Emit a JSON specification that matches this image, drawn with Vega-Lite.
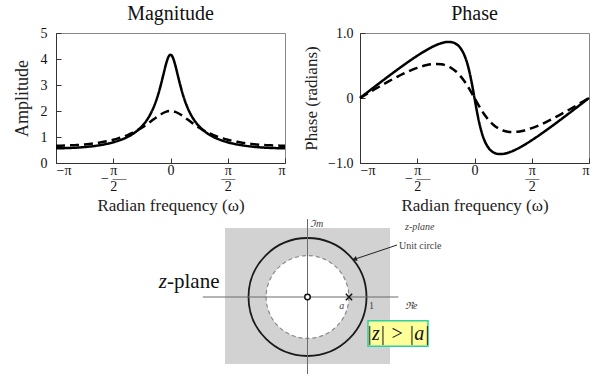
{
  "$schema": "https://vega.github.io/schema/vega-lite/v6.json",
  "autosize": {"type": "pad"},
  "padding": {"left": 12, "top": 3, "right": 0, "bottom": 0},
  "background": "white",
  "config": {
    "font": "Liberation Serif",
    "view": {"stroke": "#888", "strokeWidth": 1},
    "axis": {
      "grid": false,
      "labelFont": "Liberation Serif",
      "titleFont": "Liberation Serif",
      "labelFontSize": 14,
      "titleFontSize": 17,
      "titleFontWeight": "normal",
      "labelColor": "#111",
      "titleColor": "#222",
      "domainColor": "#333",
      "tickColor": "#333",
      "tickSize": -5,
      "labelPadding": 7
    },
    "title": {"font": "Liberation Serif", "fontSize": 20, "fontWeight": "normal", "color": "#111", "offset": 2}
  },
  "datasets": {
    "curves": [
      {"w": -3.1416, "s": "a", "m": 0.5682, "p": 0},
      {"w": -3.0107, "s": "a", "m": 0.5694, "p": 0.0565},
      {"w": -2.8798, "s": "a", "m": 0.5730, "p": 0.1129},
      {"w": -2.7489, "s": "a", "m": 0.5791, "p": 0.1692},
      {"w": -2.6180, "s": "a", "m": 0.5878, "p": 0.2253},
      {"w": -2.4871, "s": "a", "m": 0.5994, "p": 0.2810},
      {"w": -2.3562, "s": "a", "m": 0.6140, "p": 0.3363},
      {"w": -2.2253, "s": "a", "m": 0.6321, "p": 0.3910},
      {"w": -2.0944, "s": "a", "m": 0.6541, "p": 0.4450},
      {"w": -1.9635, "s": "a", "m": 0.6805, "p": 0.4982},
      {"w": -1.8326, "s": "a", "m": 0.7123, "p": 0.5502},
      {"w": -1.7017, "s": "a", "m": 0.7504, "p": 0.6009},
      {"w": -1.5708, "s": "a", "m": 0.7962, "p": 0.6498},
      {"w": -1.4399, "s": "a", "m": 0.8515, "p": 0.6966},
      {"w": -1.3090, "s": "a", "m": 0.9189, "p": 0.7404},
      {"w": -1.1781, "s": "a", "m": 1.0020, "p": 0.7804},
      {"w": -1.0472, "s": "a", "m": 1.1059, "p": 0.8153},
      {"w": -0.9163, "s": "a", "m": 1.2382, "p": 0.8429},
      {"w": -0.7854, "s": "a", "m": 1.4103, "p": 0.8601},
      {"w": -0.7069, "s": "a", "m": 1.5387, "p": 0.8634},
      {"w": -0.6545, "s": "a", "m": 1.6402, "p": 0.8616},
      {"w": -0.5236, "s": "a", "m": 1.9565, "p": 0.8382},
      {"w": -0.3927, "s": "a", "m": 2.4021, "p": 0.7736},
      {"w": -0.2618, "s": "a", "m": 3.0235, "p": 0.6370},
      {"w": -0.1963, "s": "a", "m": 3.3941, "p": 0.5274},
      {"w": -0.1309, "s": "a", "m": 3.7635, "p": 0.3826},
      {"w": -0.0654, "s": "a", "m": 4.0537, "p": 0.2029},
      {"w": 0, "s": "a", "m": 4.1667, "p": 0},
      {"w": 0.0654, "s": "a", "m": 4.0537, "p": -0.2029},
      {"w": 0.1309, "s": "a", "m": 3.7635, "p": -0.3826},
      {"w": 0.1963, "s": "a", "m": 3.3941, "p": -0.5274},
      {"w": 0.2618, "s": "a", "m": 3.0235, "p": -0.6370},
      {"w": 0.3927, "s": "a", "m": 2.4021, "p": -0.7736},
      {"w": 0.5236, "s": "a", "m": 1.9565, "p": -0.8382},
      {"w": 0.6545, "s": "a", "m": 1.6402, "p": -0.8616},
      {"w": 0.7069, "s": "a", "m": 1.5387, "p": -0.8634},
      {"w": 0.7854, "s": "a", "m": 1.4103, "p": -0.8601},
      {"w": 0.9163, "s": "a", "m": 1.2382, "p": -0.8429},
      {"w": 1.0472, "s": "a", "m": 1.1059, "p": -0.8153},
      {"w": 1.1781, "s": "a", "m": 1.0020, "p": -0.7804},
      {"w": 1.3090, "s": "a", "m": 0.9189, "p": -0.7404},
      {"w": 1.4399, "s": "a", "m": 0.8515, "p": -0.6966},
      {"w": 1.5708, "s": "a", "m": 0.7962, "p": -0.6498},
      {"w": 1.7017, "s": "a", "m": 0.7504, "p": -0.6009},
      {"w": 1.8326, "s": "a", "m": 0.7123, "p": -0.5502},
      {"w": 1.9635, "s": "a", "m": 0.6805, "p": -0.4982},
      {"w": 2.0944, "s": "a", "m": 0.6541, "p": -0.4450},
      {"w": 2.2253, "s": "a", "m": 0.6321, "p": -0.3910},
      {"w": 2.3562, "s": "a", "m": 0.6140, "p": -0.3363},
      {"w": 2.4871, "s": "a", "m": 0.5994, "p": -0.2810},
      {"w": 2.6180, "s": "a", "m": 0.5878, "p": -0.2253},
      {"w": 2.7489, "s": "a", "m": 0.5791, "p": -0.1692},
      {"w": 2.8798, "s": "a", "m": 0.5730, "p": -0.1129},
      {"w": 3.0107, "s": "a", "m": 0.5694, "p": -0.0565},
      {"w": 3.1416, "s": "a", "m": 0.5682, "p": 0},
      {"w": -3.1416, "s": "b", "m": 0.6667, "p": 0},
      {"w": -3.0107, "s": "b", "m": 0.6679, "p": 0.0436},
      {"w": -2.8798, "s": "b", "m": 0.6718, "p": 0.0870},
      {"w": -2.7489, "s": "b", "m": 0.6782, "p": 0.1301},
      {"w": -2.6180, "s": "b", "m": 0.6875, "p": 0.1727},
      {"w": -2.4871, "s": "b", "m": 0.6996, "p": 0.2146},
      {"w": -2.3562, "s": "b", "m": 0.7148, "p": 0.2555},
      {"w": -2.2253, "s": "b", "m": 0.7335, "p": 0.2952},
      {"w": -2.0944, "s": "b", "m": 0.7559, "p": 0.3335},
      {"w": -1.9635, "s": "b", "m": 0.7826, "p": 0.3699},
      {"w": -1.8326, "s": "b", "m": 0.8141, "p": 0.4041},
      {"w": -1.7017, "s": "b", "m": 0.8511, "p": 0.4355},
      {"w": -1.5708, "s": "b", "m": 0.8944, "p": 0.4636},
      {"w": -1.4399, "s": "b", "m": 0.9451, "p": 0.4876},
      {"w": -1.3090, "s": "b", "m": 1.0044, "p": 0.5065},
      {"w": -1.1781, "s": "b", "m": 1.0738, "p": 0.5190},
      {"w": -1.0472, "s": "b", "m": 1.1547, "p": 0.5236},
      {"w": -0.9163, "s": "b", "m": 1.2488, "p": 0.5183},
      {"w": -0.7854, "s": "b", "m": 1.3572, "p": 0.5005},
      {"w": -0.6545, "s": "b", "m": 1.4795, "p": 0.4673},
      {"w": -0.5236, "s": "b", "m": 1.6138, "p": 0.4152},
      {"w": -0.3927, "s": "b", "m": 1.7511, "p": 0.3417},
      {"w": -0.2618, "s": "b", "m": 1.8762, "p": 0.2453},
      {"w": -0.1309, "s": "b", "m": 1.9666, "p": 0.1287},
      {"w": 0, "s": "b", "m": 2.0, "p": 0},
      {"w": 0.1309, "s": "b", "m": 1.9666, "p": -0.1287},
      {"w": 0.2618, "s": "b", "m": 1.8762, "p": -0.2453},
      {"w": 0.3927, "s": "b", "m": 1.7511, "p": -0.3417},
      {"w": 0.5236, "s": "b", "m": 1.6138, "p": -0.4152},
      {"w": 0.6545, "s": "b", "m": 1.4795, "p": -0.4673},
      {"w": 0.7854, "s": "b", "m": 1.3572, "p": -0.5005},
      {"w": 0.9163, "s": "b", "m": 1.2488, "p": -0.5183},
      {"w": 1.0472, "s": "b", "m": 1.1547, "p": -0.5236},
      {"w": 1.1781, "s": "b", "m": 1.0738, "p": -0.5190},
      {"w": 1.3090, "s": "b", "m": 1.0044, "p": -0.5065},
      {"w": 1.4399, "s": "b", "m": 0.9451, "p": -0.4876},
      {"w": 1.5708, "s": "b", "m": 0.8944, "p": -0.4636},
      {"w": 1.7017, "s": "b", "m": 0.8511, "p": -0.4355},
      {"w": 1.8326, "s": "b", "m": 0.8141, "p": -0.4041},
      {"w": 1.9635, "s": "b", "m": 0.7826, "p": -0.3699},
      {"w": 2.0944, "s": "b", "m": 0.7559, "p": -0.3335},
      {"w": 2.2253, "s": "b", "m": 0.7335, "p": -0.2952},
      {"w": 2.3562, "s": "b", "m": 0.7148, "p": -0.2555},
      {"w": 2.4871, "s": "b", "m": 0.6996, "p": -0.2146},
      {"w": 2.6180, "s": "b", "m": 0.6875, "p": -0.1727},
      {"w": 2.7489, "s": "b", "m": 0.6782, "p": -0.1301},
      {"w": 2.8798, "s": "b", "m": 0.6718, "p": -0.0870},
      {"w": 3.0107, "s": "b", "m": 0.6679, "p": -0.0436},
      {"w": 3.1416, "s": "b", "m": 0.6667, "p": 0}
    ]
  },
  "spacing": 0,
  "vconcat": [
    {
      "spacing": 75,
      "bounds": "flush",
      "hconcat": [
        {
          "width": 229,
          "height": 130,
          "title": {"text": "Magnitude"},
          "data": {"name": "curves"},
          "mark": {"type": "line", "color": "black", "strokeWidth": 2.5, "interpolate": "monotone"},
          "encoding": {
            "x": {
              "field": "w", "type": "quantitative",
              "scale": {"domain": [-3.1416, 3.1416], "nice": false, "zero": false},
              "axis": {
                "title": "Radian frequency (ω)",
                "values": [-3.1416, -1.5708, 0, 1.5708, 3.1416],
                "labelExpr": "datum.value < -3 ? '−π' : datum.value < -1 ? ['    π', '−  —', '    2'] : datum.value < 1 ? '0' : datum.value < 3 ? ['π', '—', '2'] : 'π'",
                "labelLineHeight": 8,
                "labelPadding": 5,
                "titlePadding": 4
              }
            },
            "y": {
              "field": "m", "type": "quantitative",
              "scale": {"domain": [0, 5], "nice": false},
              "axis": {"title": "Amplitude", "values": [0, 1, 2, 3, 4, 5], "titleFontSize": 18, "labelPadding": 14, "titlePadding": 9}
            },
            "strokeDash": {
              "field": "s", "type": "nominal",
              "scale": {"domain": ["a", "b"], "range": [[1, 0], [9, 5]]},
              "legend": null
            }
          }
        },
        {
          "width": 229,
          "height": 130,
          "title": {"text": "Phase"},
          "layer": [
            {
              "mark": {"type": "rule", "color": "black", "strokeWidth": 1},
              "encoding": {"y": {"datum": 0}}
            },
            {
              "data": {"name": "curves"},
              "mark": {"type": "line", "color": "black", "strokeWidth": 2.5, "interpolate": "monotone"},
              "encoding": {
                "x": {
                  "field": "w", "type": "quantitative",
                  "scale": {"domain": [-3.1416, 3.1416], "nice": false, "zero": false},
                  "axis": {
                    "title": "Radian frequency (ω)",
                    "values": [-3.1416, -1.5708, 0, 1.5708, 3.1416],
                    "labelExpr": "datum.value < -3 ? '−π' : datum.value < -1 ? ['    π', '−  —', '    2'] : datum.value < 1 ? '0' : datum.value < 3 ? ['π', '—', '2'] : 'π'",
                    "labelLineHeight": 8,
                    "labelPadding": 5,
                    "titlePadding": 4
                  }
                },
                "y": {
                  "field": "p", "type": "quantitative",
                  "scale": {"domain": [-1, 1], "nice": false},
                  "axis": {
                    "title": "Phase (radians)",
                    "values": [-1, -0.5, 0, 0.5, 1],
                    "labelExpr": "datum.value == 0 ? '0' : replace(format(datum.value, '.1f'), '-', '−')",
                    "labelPadding": 12,
                    "titlePadding": 7
                  }
                },
                "strokeDash": {
                  "field": "s", "type": "nominal",
                  "scale": {"domain": ["a", "b"], "range": [[1, 0], [9, 5]]},
                  "legend": null
                }
              }
            }
          ]
        }
      ]
    },
    {
      "width": 533,
      "height": 160,
      "view": {"stroke": null},
      "encoding": {
        "x": {"field": "x", "type": "quantitative", "scale": {"domain": [-4.263, 4.771], "nice": false, "zero": false}, "axis": null},
        "y": {"field": "y", "type": "quantitative", "scale": {"domain": [-1.3051, 1.4068], "nice": false, "zero": false}, "axis": null}
      },
      "layer": [
        {
          "data": {"values": [{"x": -1.398, "y": -1.136, "x2": 1.398, "y2": 1.169}]},
          "mark": {"type": "rect", "fill": "#d2d2d2"},
          "encoding": {"x2": {"field": "x2"}, "y2": {"field": "y2"}}
        },
        {
          "data": {"values": [{"x": 0, "y": 0}]},
          "mark": {"type": "point", "shape": "circle", "size": 6850, "filled": true, "fill": "white", "opacity": 1, "fillOpacity": 1, "stroke": "#8a8a8a", "strokeWidth": 1.2, "strokeDash": [4, 3]}
        },
        {
          "data": {"values": [{"x": 0, "y": 0}]},
          "mark": {"type": "point", "shape": "circle", "size": 13924, "filled": false, "opacity": 1, "stroke": "#1a1a1a", "strokeWidth": 1.8}
        },
        {
          "data": {"values": [
            {"x": -1.775, "y": 0, "x2": 1.539, "y2": 0},
            {"x": 0, "y": 1.322, "x2": 0, "y2": -1.305}
          ]},
          "mark": {"type": "rule", "color": "#6a6a6a", "strokeWidth": 1},
          "encoding": {"x2": {"field": "x2"}, "y2": {"field": "y2"}}
        },
        {
          "data": {"values": [{"x": 1.517, "y": 0.881, "x2": 0.81, "y2": 0.644}]},
          "mark": {"type": "rule", "color": "#222", "strokeWidth": 1},
          "encoding": {"x2": {"field": "x2"}, "y2": {"field": "y2"}}
        },
        {
          "data": {"values": [{"x": 0.81, "y": 0.644}]},
          "mark": {"type": "point", "shape": "triangle", "size": 30, "angle": 250, "filled": true, "fill": "#222", "opacity": 1, "strokeWidth": 0}
        },
        {
          "data": {"values": [{"x": 0, "y": 0}]},
          "mark": {"type": "point", "shape": "circle", "size": 30, "filled": true, "fill": "white", "opacity": 1, "stroke": "#111", "strokeWidth": 1.5}
        },
        {
          "data": {"values": [{"x": 0.703, "y": 0}]},
          "mark": {"type": "point", "shape": "M-1,-1L1,1M-1,1L1,-1", "size": 40, "filled": false, "opacity": 1, "stroke": "#111", "strokeWidth": 1.5}
        },
        {
          "data": {"values": [
            {"x": 0.042, "y": 1.237, "t": "ℑm"},
            {"x": 1.653, "y": 1.192, "t": "z-plane"},
            {"x": 0.539, "y": -0.147, "t": "a"},
            {"x": 1.653, "y": -0.147, "t": "ℜe"}
          ]},
          "mark": {"type": "text", "align": "left", "baseline": "middle", "font": "Liberation Serif", "fontSize": 10, "fontStyle": "italic", "color": "#444"},
          "encoding": {"text": {"field": "t"}}
        },
        {
          "data": {"values": [
            {"x": 1.55, "y": 0.870, "t": "Unit circle"},
            {"x": 1.042, "y": -0.147, "t": "1"}
          ]},
          "mark": {"type": "text", "align": "left", "baseline": "middle", "font": "Liberation Serif", "fontSize": 10, "color": "#444"},
          "encoding": {"text": {"field": "t"}}
        },
        {
          "data": {"values": [{"x": -2.381, "y": 0.161, "t": "z"}]},
          "mark": {"type": "text", "align": "right", "baseline": "alphabetic", "font": "Liberation Serif", "fontSize": 21, "fontStyle": "italic", "color": "#111"},
          "encoding": {"text": {"field": "t"}}
        },
        {
          "data": {"values": [{"x": -2.381, "y": 0.161, "t": "-plane"}]},
          "mark": {"type": "text", "align": "left", "baseline": "alphabetic", "font": "Liberation Serif", "fontSize": 21, "color": "#111"},
          "encoding": {"text": {"field": "t"}}
        },
        {
          "data": {"values": [{"x": 1.025, "y": -0.836, "x2": 2.042, "y2": -0.402}]},
          "mark": {"type": "rect", "fill": "#ffff99", "stroke": "#2fd0a0", "strokeWidth": 1.5},
          "encoding": {"x2": {"field": "x2"}, "y2": {"field": "y2"}}
        },
        {
          "data": {"values": [{"x": 1.534, "y": -0.619, "t": "|z| > |a|"}]},
          "mark": {"type": "text", "align": "center", "baseline": "middle", "font": "Liberation Serif", "fontSize": 20, "fontStyle": "italic", "color": "#111"},
          "encoding": {"text": {"field": "t"}}
        }
      ]
    }
  ]
}
